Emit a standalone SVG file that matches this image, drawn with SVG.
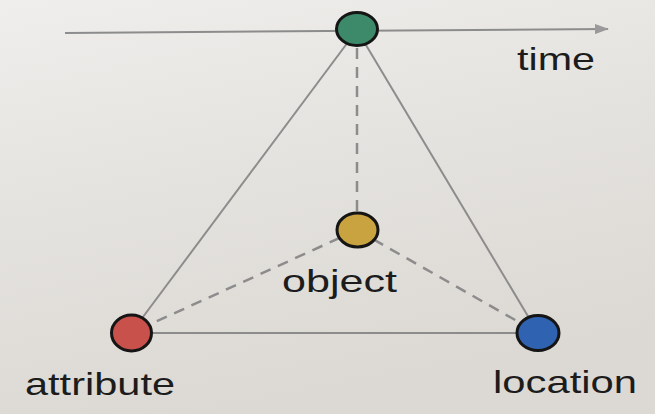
<svg xmlns="http://www.w3.org/2000/svg" width="655" height="414" viewBox="0 0 655 414">
  <defs>
    <linearGradient id="paper" x1="0" y1="0" x2="0.3" y2="1">
      <stop offset="0" stop-color="#efeeec"/>
      <stop offset="0.5" stop-color="#e4e2de"/>
      <stop offset="1" stop-color="#dcd9d4"/>
    </linearGradient>
    <marker id="arrow" viewBox="0 0 14 10" refX="13" refY="5" markerWidth="14" markerHeight="10" markerUnits="userSpaceOnUse" orient="auto">
      <path d="M0,0 L14,5 L0,10 Z" fill="#9a9a9a"/>
    </marker>
  </defs>
  <style>
    .solid { stroke: #8c8c8c; stroke-width: 2; fill: none; }
    .dashed { stroke: #8c8c8c; stroke-width: 2.5; fill: none; stroke-dasharray: 11 8; }
    .node { stroke: #151515; stroke-width: 3; }
    .label { font-family: "Liberation Sans", Arial, sans-serif; font-size: 32px; fill: #1c1c1c; }
  </style>

  <rect x="0" y="0" width="655" height="414" fill="url(#paper)"/>

  <g id="connectors">
    <!-- time axis -->
    <line class="solid" x1="65" y1="33" x2="608" y2="29" marker-end="url(#arrow)" stroke="#9a9a9a"/>
    <!-- outer triangle -->
    <line class="solid" x1="357" y1="30" x2="131" y2="333"/>
    <line class="solid" x1="357" y1="30" x2="538" y2="333"/>
    <line class="solid" x1="131" y1="333" x2="538" y2="333"/>
    <!-- links to object -->
    <line class="dashed" x1="357" y1="48" x2="357" y2="212"/>
    <line class="dashed" x1="357" y1="230" x2="131" y2="333"/>
    <line class="dashed" x1="357" y1="230" x2="538" y2="333"/>
  </g>

  <g id="time">
    <ellipse class="node" cx="357" cy="29" rx="20.5" ry="16.5" fill="#3c8a69"/>
    <text class="label" x="517" y="70" textLength="78" lengthAdjust="spacingAndGlyphs">time</text>
  </g>

  <g id="object">
    <ellipse class="node" cx="357.5" cy="230" rx="20.5" ry="17" fill="#c9a340"/>
    <text class="label" x="282" y="292" textLength="115" lengthAdjust="spacingAndGlyphs">object</text>
  </g>

  <g id="attribute">
    <ellipse class="node" cx="131.5" cy="333" rx="20" ry="18" fill="#c8514b"/>
    <text class="label" x="25" y="395" textLength="150" lengthAdjust="spacingAndGlyphs">attribute</text>
  </g>

  <g id="location">
    <ellipse class="node" cx="538" cy="333" rx="21" ry="17.5" fill="#2f62b0"/>
    <text class="label" x="493" y="393" textLength="144" lengthAdjust="spacingAndGlyphs">location</text>
  </g>
</svg>
